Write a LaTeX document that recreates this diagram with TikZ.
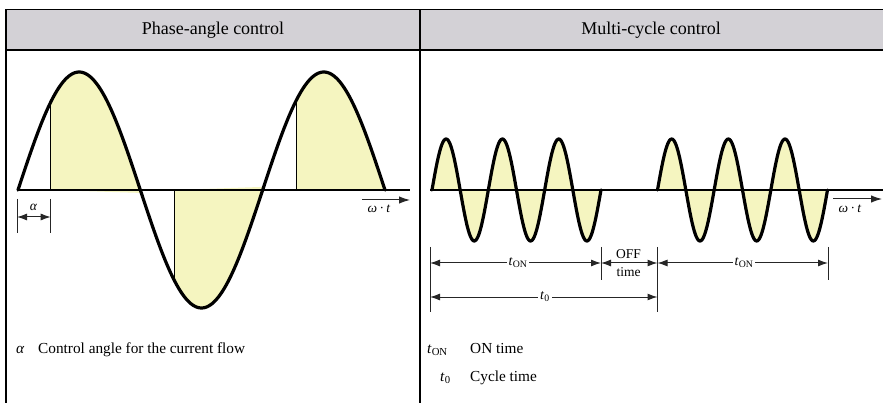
\documentclass[tikz,border=0pt]{standalone}
\usepackage{fontspec}
\setmainfont{Liberation Serif}
\usetikzlibrary{arrows.meta}
\definecolor{hdr}{RGB}{211,209,214}
\definecolor{fillY}{RGB}{245,245,192}
\tikzset{
  wave/.style={line width=3.2pt, line join=round, line cap=round},
  axisline/.style={line width=2.2pt},
  firing/.style={line width=1.5pt},
  frame/.style={line width=1.3pt},
  dimtick/.style={line width=1pt, draw=black!85},
  dimarrow/.style={line width=1pt, draw=black!85, {Latex[length=10pt,width=7pt]}-{Latex[length=10pt,width=7pt]}},
  dirarrow/.style={line width=1pt, draw=black!85, -{Latex[length=11pt,width=7.5pt]}},
  lbl/.style={font=\fontsize{13.5}{15}\selectfont, inner sep=1pt},
  dimlbl/.style={font=\fontsize{14}{15}\selectfont, fill=white, inner sep=2pt},
  legend/.style={font=\fontsize{15.3}{17}\selectfont, anchor=base west, inner sep=0pt},
  hdrtext/.style={font=\fontsize{18}{20}\selectfont, anchor=base, inner sep=0pt},
  declare function={
    ls(\x)=190-118*sin((\x-18)*1.47143);
    ra(\x)=190-51*sin((\x-432)*6.39091);
    rb(\x)=190-51*sin((\x-657.5)*6.35257);
  }
}
\newcommand{\tON}{\textit{t}\textsubscript{ON}}
\newcommand{\tzero}{\textit{t}\textsubscript{0}}
\begin{document}
\begin{tikzpicture}[x=1pt,y=-1pt]
\useasboundingbox (0,0) rectangle (883,403);
% ---------- table frame ----------
\fill[hdr] (6,9.5) rectangle (883,50);
\draw[frame] (883,9.5) -- (6,9.5) -- (6,403);
\draw[frame] (6,50) -- (883,50);
\draw[frame] (420,9.5) -- (420,403);
\node[hdrtext] (h1) at (213,35) {Phase-angle control};
\node[hdrtext] (h2) at (651,35) {Multi-cycle control};

% ---------- left panel: phase-angle control ----------
\fill[fillY] (50.7,190) -- plot[domain=50.7:141.3, samples=60] (\x,{ls(\x)}) -- cycle;
\fill[fillY] (174.5,190) -- plot[domain=174.5:263.7, samples=60] (\x,{ls(\x)}) -- cycle;
\fill[fillY] (296.7,190) -- plot[domain=296.7:385, samples=60] (\x,{ls(\x)}) -- cycle;
\coordinate (LA0) at (17,190);
\coordinate (LA1) at (410,190);
\draw[axisline] (LA0) -- (LA1);
\coordinate (F1a) at (50.7,190);  \coordinate (F1b) at (50.7,{ls(50.7)});
\coordinate (F2a) at (174.5,190); \coordinate (F2b) at (174.5,{ls(174.5)});
\coordinate (F3a) at (296.7,190); \coordinate (F3b) at (296.7,{ls(296.7)});
\draw[firing] (F1a) -- (F1b);
\draw[firing] (F2a) -- (F2b);
\draw[firing] (F3a) -- (F3b);
\draw[wave] plot[domain=18:385, samples=220] (\x,{ls(\x)});

% omega t arrow (left)
\coordinate (LW0) at (362,200);
\coordinate (LW1) at (410,200);
\draw[dirarrow] (LW0) -- (LW1);
\node[lbl, anchor=base] (lwt) at (379,212.5) {\textit{ω}\,·\,\textit{t}};

% alpha dimension
\coordinate (al0t) at (17,199);   \coordinate (al0b) at (17,233);
\coordinate (al1t) at (50.7,199); \coordinate (al1b) at (50.7,233);
\coordinate (al0) at (17,217);    \coordinate (al1) at (50.7,217);
\draw[dimtick] (al0t) -- (al0b);
\draw[dimtick] (al1t) -- (al1b);
\draw[dimarrow] (al0) -- (al1);
\node[lbl, anchor=base] (alab) at (33.5,210.5) {\textit{α}};

% legend left
\node[legend] (lg1) at (16,353.5) {\textit{α}};
\node[legend] (lg2) at (38,353.5) {Control angle for the current flow};

% ---------- right panel: multi-cycle control ----------
\fill[fillY] (432,190) -- plot[domain=432:601, samples=200] (\x,{ra(\x)}) -- cycle;
\fill[fillY] (657.5,190) -- plot[domain=657.5:827.5, samples=200] (\x,{rb(\x)}) -- cycle;
\coordinate (RA0) at (430,190);
\coordinate (RA1) at (883,190);
\draw[axisline] (RA0) -- (RA1);
\draw[wave] plot[domain=432:601, samples=200] (\x,{ra(\x)});
\draw[wave] plot[domain=657.5:827.5, samples=200] (\x,{rb(\x)});

% omega t arrow (right)
\coordinate (RW0) at (833,199);
\coordinate (RW1) at (882,199);
\draw[dirarrow] (RW0) -- (RW1);
\node[lbl, anchor=base] (rwt) at (850,212.5) {\textit{ω}\,·\,\textit{t}};

% dimension ticks
\coordinate (T1t) at (430,247);   \coordinate (T1b) at (430,312);
\coordinate (T2t) at (601,247);   \coordinate (T2b) at (601,280);
\coordinate (T3t) at (657.5,247); \coordinate (T3b) at (657.5,312);
\coordinate (T4t) at (828,247);   \coordinate (T4b) at (828,280);
\draw[dimtick] (T1t) -- (T1b);
\draw[dimtick] (T2t) -- (T2b);
\draw[dimtick] (T3t) -- (T3b);
\draw[dimtick] (T4t) -- (T4b);

% dimension arrows
\coordinate (D1) at (430,263);
\coordinate (D2) at (601,263);
\coordinate (D3) at (657.5,263);
\coordinate (D4) at (828,263);
\coordinate (E1) at (430,297);
\coordinate (E3) at (657.5,297);
\draw[dimarrow] (D1) -- (D2);
\draw[dimarrow] (D2) -- (D3);
\draw[dimarrow] (D3) -- (D4);
\draw[dimarrow] (E1) -- (E3);
\node[dimlbl] (ton1) at (518,263) {\tON};
\node[dimlbl] (ton2) at (744,263) {\tON};
\node[dimlbl] (tz) at (545,297) {\tzero};
\node[lbl, anchor=base] (off) at (628.5,258.3) {OFF};
\node[lbl, anchor=base] (tim) at (628.5,276.7) {time};

% legend right
\node[legend] (lg3) at (427,353.5) {\tON};
\node[legend] (lg4) at (470,353.5) {ON time};
\node[legend] (lg5) at (440,381) {\tzero};
\node[legend] (lg6) at (470,381) {Cycle time};
\end{tikzpicture}
\end{document}
